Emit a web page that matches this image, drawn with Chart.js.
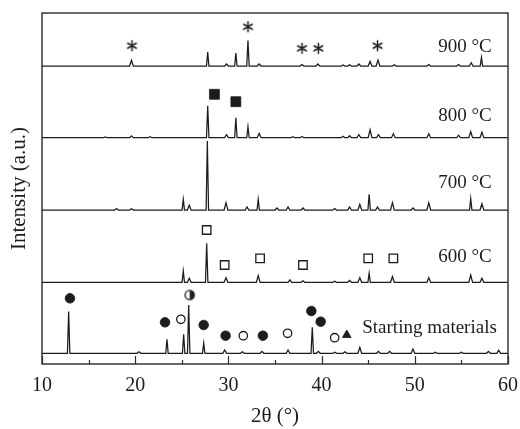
<!DOCTYPE html>
<html>
<head>
<meta charset="utf-8">
<title>XRD patterns</title>
<script src="https://cdn.jsdelivr.net/npm/chart.js@4.4.1/dist/chart.umd.min.js"></script>
<style>
  html, body { margin: 0; padding: 0; background: #ffffff; }
  #wrap { width: 520px; height: 429px; }
</style>
</head>
<body>
<div id="wrap"><canvas id="xrd" width="520" height="429"></canvas></div>
<script>
// Diffraction peaks per sample: [2θ (°), peak height above its own baseline (a.u.)]
const peaks900 = [[19.6,5.8],[27.78,14],[29.8,2],[30.8,13],[32.1,25.5],[33.3,2],[37.9,1.5],[39.6,2],
  [42.3,1],[43.0,1.2],[44.0,2],[45.2,4.5],[46.05,6],[47.8,1.2],[51.5,1.5],[54.7,1.5],[56.05,3.3],[57.15,8.5]];
const peaks800 = [[16.8,0.8],[19.6,1.8],[21.6,1],[27.78,32],[29.8,3],[30.8,20],[32.1,11],[33.3,4.3],
  [36.9,1],[37.9,1.2],[42.3,1.5],[43.0,2],[44.0,3],[45.2,8],[46.1,3],[47.7,4],[51.5,4],[54.7,2.5],[56.0,6],[57.2,5.5]];
const peaks700 = [[18.0,1.5],[19.6,1.3],[25.16,10.7],[25.8,4.7],[27.74,69],[29.74,7.3],[32.0,3],[33.2,10.7],
  [35.2,2],[36.4,3],[38.0,2],[41.4,1.5],[43.0,3],[44.1,5.7],[45.1,15.7],[46.0,3],[47.6,7.3],[49.8,2],
  [51.5,7.3],[56.0,11.3],[57.2,6.3]];
const peaks600 = [[25.16,11.3],[25.8,4],[27.67,39],[29.74,4.7],[33.2,6.7],[36.6,2.5],[38.0,1.5],[41.4,1],
  [43.0,2],[44.1,4.7],[45.1,9],[47.6,5.7],[51.5,4.7],[56.0,7.3],[57.2,4]];
const peaksStart = [[12.86,41.7],[20.4,1.5],[23.41,14],[25.2,19],[25.74,48.3],[27.35,10],[29.6,3.3],[31.5,1.5],
  [33.6,2],[36.4,3.3],[39.0,26],[39.65,2],[41.4,1],[42.5,1.5],[44.1,6],[46.1,2],[47.3,2],[49.8,4.3],
  [52.2,1],[55.0,1],[57.9,2],[59.0,3]];

// Phase markers: [2θ (°), intensity (a.u.)]
const markAsterisk = [[19.65,318.3],[32.1,337.3],[37.9,315.7],[39.65,315.7],[46.0,318.3]];
const markSquareFilled = [[28.5,269.7],[30.8,262.3]];
const markSquareOpen = [[27.67,134],[29.6,99],[33.4,105.7],[38.0,99],[45.0,105.7],[47.7,105.7]];
const markCircleFilled = [[13.0,65.7],[23.2,41.7],[27.35,39],[29.7,28.3],[33.7,28.3],[38.9,53],[39.9,42.3]];
const markCircleOpen = [[24.9,44.7],[31.6,28.3],[36.35,30.7],[41.4,26.3]];
const markCircleHalf = [[25.85,69]];
const markTriangle = [[42.7,29]];

// Sample names and tick values
const sampleLabels = ['Starting materials', '600 °C', '700 °C', '800 °C', '900 °C'];
const xTicksMajor = [10, 20, 30, 40, 50, 60];

// Vertical stacking of the patterns
const STACK = { start: 10.7, t600: 81.7, t700: 154, t800: 226.3, t900: 298 };
const INK = '#1c1c1c';
const SERIF = '"Liberation Serif", "Times New Roman", serif';

function profile(peaks, base) {
  const pts = [{ x: 10, y: base }];
  peaks.forEach(([t, h]) => {
    const hw = h > 8 ? 0.13 : 0.2;
    pts.push({ x: t - hw, y: base }, { x: t, y: base + h }, { x: t + hw, y: base });
  });
  pts.push({ x: 60, y: base });
  return pts;
}
const toXY = arr => arr.map(([x, y]) => ({ x, y }));

function asteriskSymbol() {
  const s = 13, c = document.createElement('canvas');
  c.width = c.height = s;
  const g = c.getContext('2d');
  g.strokeStyle = INK; g.lineWidth = 1.5; g.lineCap = 'round';
  const r = 5, m = s / 2;
  g.beginPath();
  for (let i = 0; i < 3; i++) {
    const a = Math.PI / 2 + i * Math.PI / 3;
    g.moveTo(m + r * Math.cos(a), m + r * Math.sin(a));
    g.lineTo(m - r * Math.cos(a), m - r * Math.sin(a));
  }
  g.stroke();
  return c;
}
function halfCircleSymbol() {
  const s = 13, c = document.createElement('canvas');
  c.width = c.height = s;
  const g = c.getContext('2d'), m = s / 2, r = 4.6;
  g.fillStyle = '#fff';
  g.beginPath(); g.arc(m, m, r, 0, Math.PI * 2); g.fill();
  g.fillStyle = INK;
  g.beginPath(); g.arc(m, m, r, -Math.PI / 2, Math.PI / 2); g.closePath(); g.fill();
  g.strokeStyle = INK; g.lineWidth = 1.3;
  g.beginPath(); g.arc(m, m, r, 0, Math.PI * 2); g.stroke();
  return c;
}

function traceSet(data) {
  return { type: 'line', data, borderColor: INK, borderWidth: 1.25, pointRadius: 0, tension: 0, fill: false, order: 2 };
}
function markerSet(data, style, radius, filled) {
  return {
    type: 'line', data: toXY(data), showLine: false, order: 1,
    pointStyle: style, pointRadius: radius, pointHoverRadius: radius,
    backgroundColor: filled ? INK : '#ffffff', borderColor: INK, borderWidth: filled ? 0.8 : 1.3
  };
}

// Frame, inward ticks and sample names
const decorations = {
  id: 'decorations',
  afterDatasetsDraw(chart) {
    const { ctx, chartArea: a, scales: { x, y } } = chart;
    ctx.save();
    ctx.strokeStyle = '#2a2a2a';
    ctx.lineWidth = 1.4;
    ctx.strokeRect(a.left, a.top, a.right - a.left, a.bottom - a.top);
    ctx.lineWidth = 1.2;
    x.ticks.forEach(t => {
      const px = Math.round(x.getPixelForValue(t.value)) + 0.5;
      const len = xTicksMajor.includes(t.value) ? 8 : 4;
      ctx.beginPath(); ctx.moveTo(px, a.bottom); ctx.lineTo(px, a.bottom - len); ctx.stroke();
    });
    ctx.fillStyle = INK;
    ctx.font = '19px ' + SERIF;
    ctx.textAlign = 'right';
    ctx.textBaseline = 'middle';
    const spots = [[58.8, 35.7], [58.25, 107.3], [58.25, 181.3], [58.25, 248.3], [58.25, 317.3]];
    sampleLabels.forEach((txt, i) => {
      ctx.fillText(txt, x.getPixelForValue(spots[i][0]), y.getPixelForValue(spots[i][1]));
    });
    ctx.restore();
  }
};

new Chart(document.getElementById('xrd'), {
  type: 'line',
  data: {
    datasets: [
      traceSet(profile(peaksStart, STACK.start)),
      traceSet(profile(peaks600, STACK.t600)),
      traceSet(profile(peaks700, STACK.t700)),
      traceSet(profile(peaks800, STACK.t800)),
      traceSet(profile(peaks900, STACK.t900)),
      markerSet(markAsterisk, asteriskSymbol(), 6, true),
      markerSet(markSquareFilled, 'rect', 7, true),
      markerSet(markSquareOpen, 'rect', 6, false),
      markerSet(markCircleFilled, 'circle', 4.8, true),
      markerSet(markCircleOpen, 'circle', 4.2, false),
      markerSet(markCircleHalf, halfCircleSymbol(), 6, true),
      markerSet(markTriangle, 'triangle', 5, true)
    ]
  },
  options: {
    responsive: false,
    animation: false,
    devicePixelRatio: 1,
    layout: { padding: { top: 13, right: 12, left: 0, bottom: 0 } },
    plugins: { legend: { display: false }, tooltip: { enabled: false } },
    scales: {
      x: {
        type: 'linear', min: 10, max: 60,
        grid: { display: false, drawTicks: false },
        border: { display: false },
        ticks: {
          stepSize: 5, padding: 10, color: INK, maxRotation: 0, autoSkip: false,
          font: { family: SERIF, size: 20 },
          callback: v => (xTicksMajor.includes(v) ? String(v) : '')
        },
        title: { display: true, text: '2θ (°)', color: INK, font: { family: SERIF, size: 21 }, padding: { top: 0, bottom: 0 } },
        afterFit: s => { s.height = 65; s.paddingLeft = 0; s.paddingRight = 0; }
      },
      y: {
        type: 'linear', min: 0, max: 351,
        grid: { display: false, drawTicks: false },
        border: { display: false },
        ticks: { display: false },
        title: { display: true, text: 'Intensity (a.u.)', color: INK, font: { family: SERIF, size: 21 }, padding: { top: 7, bottom: 0 } },
        afterFit: s => { s.width = 42; s.paddingTop = 0; s.paddingBottom = 0; }
      }
    }
  },
  plugins: [decorations]
});
</script>
</body>
</html>
